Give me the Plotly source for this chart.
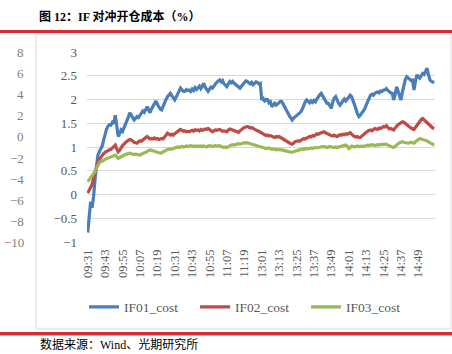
import plotly.graph_objects as go

# ---- data ----
tick_labels = ["09:31", "09:43", "09:55", "10:07", "10:19", "10:31", "10:43", "10:55",
               "11:07", "11:19", "13:01", "13:13", "13:25", "13:37", "13:49", "14:01",
               "14:13", "14:25", "14:37", "14:49"]

times = []
for h, m0, m1 in [(9, 31, 59), (10, 0, 59), (11, 0, 30), (13, 1, 59), (14, 0, 59), (15, 0, 0)]:
    for m in range(m0, m1 + 1):
        times.append(f"{h:02d}:{m:02d}")

if01_cost = [
    -0.80, -0.45, -0.15, -0.28, -0.05, 0.31, 0.58, 0.83, 0.90, 0.97,
    1.02, 1.15, 1.29, 1.38, 1.44, 1.47, 1.46, 1.52, 1.49, 1.67,
    1.45, 1.22, 1.28, 1.36, 1.33, 1.40, 1.46, 1.55, 1.63, 1.72,
    1.66, 1.60, 1.57, 1.60, 1.64, 1.62, 1.67, 1.71, 1.76, 1.73,
    1.80, 1.85, 1.78, 1.72, 1.80, 1.86, 1.92, 1.97, 1.90, 1.84,
    1.80, 1.78, 1.86, 1.95, 2.00, 2.06, 2.10, 2.13, 2.08, 2.03,
    1.99, 2.05, 2.12, 2.18, 2.24, 2.20, 2.17, 2.17, 2.21, 2.19,
    2.20, 2.17, 2.22, 2.19, 2.25, 2.21, 2.24, 2.28, 2.23, 2.30,
    2.34, 2.26, 2.20, 2.17, 2.22, 2.26, 2.24, 2.29, 2.33, 2.36,
    2.39, 2.41, 2.37, 2.40, 2.33, 2.30, 2.27, 2.33, 2.38, 2.35,
    2.38, 2.34, 2.31, 2.28, 2.26, 2.24, 2.28, 2.31, 2.35, 2.39,
    2.38, 2.35, 2.33, 2.36, 2.31, 2.34, 2.37, 2.36, 2.33, 2.34,
    1.99, 2.02, 1.97, 2.00, 2.00, 1.93, 1.95, 1.85, 1.90, 1.92,
    1.88, 1.91, 1.94, 1.96, 1.95, 1.90, 1.84, 1.78, 1.72, 1.66,
    1.60, 1.57, 1.61, 1.64, 1.66, 1.70, 1.72, 1.74, 1.80, 1.88,
    1.95, 1.99, 1.96, 1.93, 1.97, 1.94, 1.98, 1.95, 2.01, 2.07,
    2.10, 2.13, 2.08, 2.02, 1.96, 1.92, 1.92, 1.86, 1.81, 1.95,
    2.03, 2.06, 1.98, 1.92, 1.88, 1.93, 1.98, 2.01, 1.97, 2.02,
    2.05, 2.09, 2.06, 1.98, 1.92, 1.80, 1.70, 1.64, 1.67, 1.71,
    1.74, 1.80, 1.88, 1.96, 2.03, 2.09, 2.11, 2.09, 2.13, 2.14,
    2.16, 2.14, 2.18, 2.17, 2.20, 2.20, 2.23, 2.19, 2.16, 2.14,
    2.13, 1.99, 2.10, 2.27, 2.18, 2.05, 1.99, 2.15, 2.30, 2.42,
    2.48, 2.46, 2.43, 2.40, 2.41, 2.20, 2.38, 2.52, 2.48, 2.45,
    2.50, 2.55, 2.53, 2.59, 2.66, 2.52, 2.41, 2.38, 2.36, 2.36,
]

if02_cost = [
    0.03, 0.10, 0.16, 0.21, 0.35, 0.48, 0.62, 0.68, 0.74, 0.79,
    0.83, 0.86, 0.89, 0.91, 0.93, 0.94, 0.95, 0.98, 1.01, 1.04,
    0.96, 0.90, 0.93, 1.00, 1.03, 1.06, 1.10, 1.12, 1.14, 1.16,
    1.15, 1.12, 1.10, 1.09, 1.08, 1.11, 1.13, 1.12, 1.15, 1.19,
    1.20, 1.22, 1.19, 1.17, 1.18, 1.17, 1.19, 1.17, 1.18, 1.16,
    1.17, 1.18, 1.17, 1.21, 1.25, 1.29, 1.27, 1.25, 1.27, 1.25,
    1.28, 1.31, 1.33, 1.35, 1.37, 1.35, 1.33, 1.34, 1.32, 1.33,
    1.32, 1.34, 1.35, 1.33, 1.36, 1.35, 1.36, 1.34, 1.37, 1.35,
    1.36, 1.38, 1.37, 1.39, 1.37, 1.34, 1.32, 1.34, 1.36, 1.35,
    1.36, 1.37, 1.35, 1.33, 1.34, 1.33, 1.32, 1.36, 1.38, 1.37,
    1.36, 1.34, 1.33, 1.32, 1.31, 1.34, 1.37, 1.39, 1.41, 1.42,
    1.43, 1.42, 1.40, 1.41, 1.39, 1.37, 1.36, 1.34, 1.33, 1.31,
    1.30, 1.27, 1.25, 1.24, 1.25, 1.23, 1.24, 1.22, 1.21, 1.20,
    1.22, 1.21, 1.22, 1.20, 1.19, 1.16, 1.14, 1.12, 1.10, 1.08,
    1.07, 1.06, 1.09, 1.11, 1.12, 1.13, 1.12, 1.14, 1.16, 1.18,
    1.17, 1.19, 1.21, 1.22, 1.21, 1.24, 1.23, 1.26, 1.28, 1.27,
    1.29, 1.30, 1.31, 1.32, 1.30, 1.28, 1.27, 1.25, 1.24, 1.23,
    1.25, 1.23, 1.22, 1.24, 1.26, 1.25, 1.27, 1.26, 1.28, 1.27,
    1.29, 1.30, 1.27, 1.24, 1.22, 1.21, 1.22, 1.20, 1.20, 1.23,
    1.26, 1.28, 1.31, 1.33, 1.35, 1.36, 1.34, 1.37, 1.39, 1.38,
    1.37, 1.40, 1.39, 1.41, 1.43, 1.42, 1.45, 1.41, 1.38, 1.39,
    1.37, 1.36, 1.40, 1.44, 1.47, 1.49, 1.51, 1.53, 1.52, 1.49,
    1.46, 1.44, 1.42, 1.40, 1.38, 1.37, 1.41, 1.45, 1.50, 1.55,
    1.58, 1.60, 1.57, 1.55, 1.52, 1.49, 1.46, 1.43, 1.40, 1.39,
]

if03_cost = [
    0.27, 0.31, 0.36, 0.40, 0.42, 0.48, 0.55, 0.63, 0.67, 0.69,
    0.71, 0.72, 0.74, 0.76, 0.77, 0.78, 0.79, 0.80, 0.82, 0.83,
    0.79, 0.76, 0.78, 0.80, 0.81, 0.83, 0.84, 0.85, 0.86, 0.87,
    0.86, 0.85, 0.84, 0.85, 0.84, 0.83, 0.83, 0.85, 0.86, 0.88,
    0.89, 0.91, 0.93, 0.94, 0.93, 0.92, 0.91, 0.90, 0.88, 0.87,
    0.87, 0.88, 0.90, 0.92, 0.93, 0.95, 0.96, 0.95, 0.96, 0.97,
    0.98, 0.99, 1.00, 0.99, 1.00, 1.01, 1.00, 1.01, 1.02, 1.01,
    1.02, 1.03, 1.02, 1.01, 1.02, 1.01, 1.02, 1.01, 1.02, 1.01,
    1.02, 1.01, 1.00, 1.02, 1.03, 1.02, 1.01, 1.02, 1.03, 1.02,
    1.02, 1.03, 1.01, 1.00, 0.99, 1.00, 0.99, 1.01, 1.03, 1.04,
    1.05, 1.04, 1.05, 1.06, 1.07, 1.06, 1.07, 1.08, 1.09, 1.08,
    1.09, 1.08, 1.07, 1.06, 1.05, 1.04, 1.03, 1.02, 1.02, 1.01,
    1.00, 0.99, 0.98, 0.97, 0.97, 0.98, 0.96, 0.95, 0.96, 0.95,
    0.94, 0.95, 0.94, 0.94, 0.94, 0.93, 0.92, 0.91, 0.90, 0.90,
    0.89, 0.89, 0.90, 0.91, 0.92, 0.93, 0.94, 0.95, 0.96, 0.95,
    0.96, 0.97, 0.96, 0.97, 0.98, 0.97, 0.98, 0.99, 0.98, 0.99,
    1.00, 1.00, 1.01, 1.01, 1.00, 0.99, 1.00, 1.01, 1.00, 0.99,
    0.99, 1.00, 0.99, 1.00, 1.01, 1.02, 1.03, 1.03, 1.04, 1.02,
    0.97, 0.99, 1.02, 1.01, 1.00, 1.01, 1.02, 1.01, 1.02, 1.02,
    1.01, 1.02, 1.03, 1.04, 1.03, 1.04, 1.05, 1.04, 1.03, 1.04,
    1.05, 1.04, 1.05, 1.06, 1.05, 1.06, 1.06, 1.04, 1.02, 1.00,
    1.00, 0.99, 1.02, 1.05, 1.07, 1.09, 1.10, 1.11, 1.10, 1.09,
    1.09, 1.08, 1.09, 1.10, 1.09, 1.08, 1.11, 1.14, 1.16, 1.18,
    1.17, 1.16, 1.15, 1.15, 1.13, 1.11, 1.09, 1.07, 1.05, 1.04,
]

y_ticks = [-1, -0.5, 0, 0.5, 1, 1.5, 2, 2.5, 3]
side_labels = ["8", "6", "4", "2", "0", "−2", "−4", "−6", "−8", "−10"]

series = [("IF01_cost", if01_cost, "#4A7EBB"),
          ("IF02_cost", if02_cost, "#BE4B48"),
          ("IF03_cost", if03_cost, "#98B954")]

# ---- geometry (pixels) ----
W, H = 452, 354
L, R, T, B = 87, 17, 52, 112
PW, PH = W - L - R, H - T - B

def px(x):
    return (x - L) / PW

def py(y):
    return (H - B - y) / PH

SERIF = "Liberation Serif, Times New Roman, Noto Sans CJK SC, serif"

fig = go.Figure()
idx = list(range(len(times)))
for name, vals, col in series:
    fig.add_trace(go.Scatter(x=idx, y=vals, mode="lines", name=name,
                             line=dict(color=col, width=3.2)))

tick_pos = [times.index(t) for t in tick_labels]

fig.update_layout(
    width=W, height=H,
    margin=dict(l=L, r=R, t=T, b=B),
    paper_bgcolor="white", plot_bgcolor="white",
    showlegend=True,
    legend=dict(orientation="h", x=px(84), xanchor="left", y=py(307), yanchor="middle",
                font=dict(family=SERIF, size=13.5, color="#595959"),
                entrywidth=66, entrywidthmode="pixels", itemwidth=30,
                bgcolor="rgba(0,0,0,0)"),
    xaxis=dict(range=[-0.5, len(times) - 0.5], tickvals=tick_pos, ticktext=tick_labels,
               tickangle=-90, showgrid=False, zeroline=False, showline=False,
               ticks="", tickfont=dict(family=SERIF, size=12.5, color="#595959"),
               ticklabelstandoff=4),
    yaxis=dict(range=[-1, 3], tickvals=y_ticks, ticktext=[("−" + str(abs(v)) if v < 0 else str(v)) for v in y_ticks],
               showgrid=True, gridcolor="#D9D9D9", gridwidth=1, zeroline=False,
               showline=False, ticks="", tickfont=dict(family=SERIF, size=13, color="#595959"),
               ticklabelstandoff=9),
)

shapes = [
    dict(type="rect", xref="paper", yref="paper", x0=px(0), x1=px(W), y0=py(33), y1=py(30),
         fillcolor="#D52B33", line=dict(width=0), layer="above"),
    dict(type="rect", xref="paper", yref="paper", x0=px(36), x1=px(451), y0=py(329), y1=py(34),
         fillcolor="rgba(0,0,0,0)", line=dict(color="#D9D9D9", width=1), layer="below"),
    dict(type="rect", xref="paper", yref="paper", x0=px(0), x1=px(W), y0=py(335.5), y1=py(332),
         fillcolor="#D52B33", line=dict(width=0), layer="above"),
]
fig.update_layout(shapes=shapes)

annotations = [
    dict(text="<b>图 12：IF 对冲开仓成本（%）</b>", x=px(37), y=py(16.5), xref="paper", yref="paper",
         xanchor="left", yanchor="middle", showarrow=False,
         font=dict(family=SERIF, size=12, color="#000000")),
    dict(text="数据来源：Wind、光期研究所", x=px(38), y=py(344), xref="paper", yref="paper",
         xanchor="left", yanchor="middle", showarrow=False,
         font=dict(family=SERIF, size=12, color="#000000")),
]
n = len(side_labels)
for i, lab in enumerate(side_labels):
    yy = 52.5 + i * (190.0 / (n - 1))
    annotations.append(dict(text=lab, x=px(26), y=py(yy), xref="paper", yref="paper",
                            xanchor="right", yanchor="middle", showarrow=False,
                            font=dict(family=SERIF, size=13, color="#7F7F7F")))
fig.update_layout(annotations=annotations)

fig.write_html("out.html")
